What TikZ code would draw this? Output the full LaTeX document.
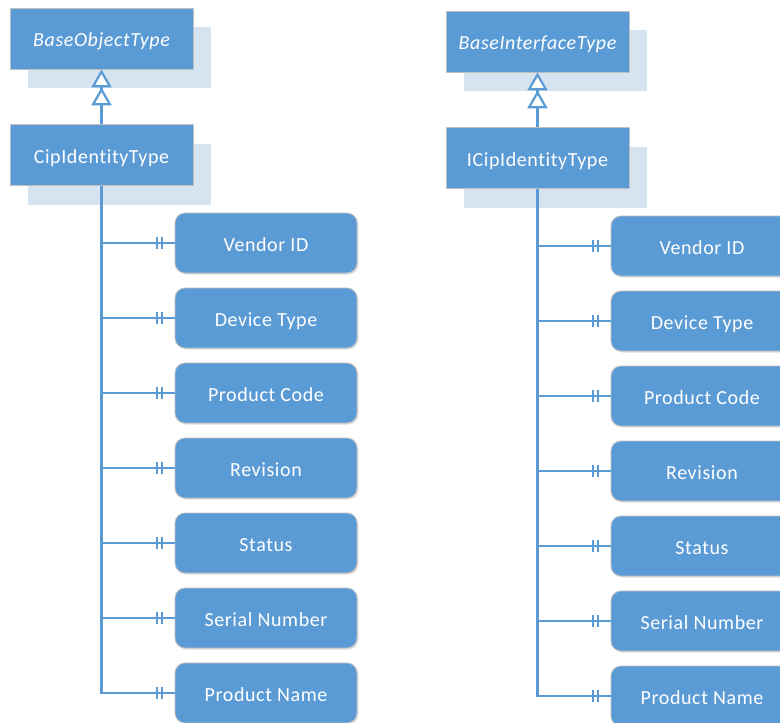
\documentclass[tikz,border=0pt]{standalone}
\usepackage{fontspec}
\setmainfont{Carlito}
\newfontfamily\boxfont[LetterSpace=3, Ligatures={NoCommon, NoRequired, NoContextual}]{Carlito}
\usetikzlibrary{arrows.meta,shadows}

\definecolor{boxblue}{HTML}{5B9BD5}
\definecolor{shadowblue}{HTML}{D6E4F2}
\definecolor{rimgrey}{HTML}{BFBFBF}

\tikzset{
  typebox/.style={rectangle, fill=boxblue, draw=rimgrey, line width=0.8pt,
    minimum width=183pt, minimum height=61pt, text=white,
    text height=17pt, text depth=1pt,
    font=\boxfont\fontsize{20}{23}\selectfont,
    drop shadow={shadow xshift=18pt, shadow yshift=-19pt, fill=shadowblue, opacity=1}},
  abstract/.style={font=\boxfont\itshape\fontsize{20}{23}\selectfont},
  attrbox/.style={rectangle, rounded corners=10pt, fill=boxblue, draw=rimgrey,
    line width=0.8pt, minimum width=182pt, minimum height=60pt, text=white,
    text height=17pt, text depth=1pt,
    font=\boxfont\fontsize{20}{23}\selectfont,
    drop shadow={shadow xshift=1.5pt, shadow yshift=-1.5pt, opacity=0.25}},
  link/.style={draw=boxblue, line width=2.4pt},
  inherit/.style={link, -{Triangle[open, length=18pt, width=20pt, fill=white, line width=2.2pt] Triangle[open, length=18pt, width=20pt, fill=white, line width=2.2pt]}},
}

% one type with its base type and attribute boxes
\newcommand{\typecolumn}[6]{%
  % #1 prefix, #2 x of types, #3 y of base, #4 base name, #5 type name, #6 x of attributes
  \node[typebox, abstract] (#1base) at (#2, #3) {#4};
  \node[typebox] (#1type) at (#2, #3+116.5) {#5};
  \draw[inherit] (#1type.north) -- (#1base.south);
  \foreach \lbl [count=\i] in {Vendor ID, Device Type, Product Code, Revision, Status, Serial Number, Product Name} {
    \node[attrbox] (#1a\i) at (#6, #3+204.5+75*\i-75) {\lbl};
    \draw[link] (#1type.south |- #1a\i.west) -- (#1a\i.west);
    \draw[link, line width=2pt] ([xshift=-18pt, yshift=6pt]#1a\i.west) -- ([xshift=-18pt, yshift=-6pt]#1a\i.west);
    \draw[link, line width=2pt] ([xshift=-13pt, yshift=6pt]#1a\i.west) -- ([xshift=-13pt, yshift=-6pt]#1a\i.west);
  }
  \draw[link] (#1type.south) |- (#1a7.west);
}

\begin{document}
\begin{tikzpicture}[x=1pt, y=-1pt]
  \useasboundingbox (0,0) rectangle (780,723);
  \typecolumn{L}{101.5}{38.5}{BaseObjectType}{CipIdentityType}{266}
  \typecolumn{R}{537.5}{41.5}{BaseInterfaceType}{ICipIdentityType}{702}
\end{tikzpicture}
\end{document}
